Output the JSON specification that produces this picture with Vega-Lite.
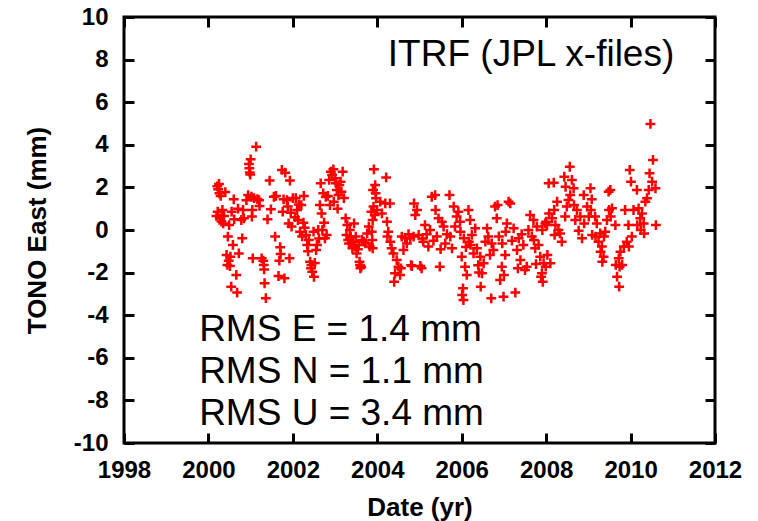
{
 "$schema": "https://vega.github.io/schema/vega-lite/v6.json",
 "width": 591,
 "height": 426,
 "autosize": {"type": "none"},
 "padding": {"left": 124, "top": 17, "right": 43, "bottom": 78},
 "background": "white",
 "config": {
  "view": {"stroke": "black", "strokeWidth": 3},
  "axis": {"domain": false, "grid": false, "tickColor": "black", "tickWidth": 3, "tickSize": 10, "labelFlush": false,
   "labelFont": "Liberation Sans", "labelFontWeight": "bold", "labelFontSize": 24, "labelColor": "black",
   "titleFont": "Liberation Sans", "titleFontWeight": "bold", "titleFontSize": 26, "titleColor": "black"}
 },
 "data": {"values": [
  {"t":2000.19,"e":0.66},{"t":2000.21,"e":2.05},{"t":2000.22,"e":0.86},{"t":2000.23,"e":1.91},{"t":2000.25,"e":2.16},{"t":2000.26,"e":1.72},{"t":2000.27,"e":0.55},{"t":2000.29,"e":1.6},{"t":2000.31,"e":0.4},{"t":2000.33,"e":0.94},{"t":2000.35,"e":0.31},{"t":2000.37,"e":0.66},{"t":2000.40,"e":1.78},{"t":2000.43,"e":-1.17},{"t":2000.45,"e":-1.64},{"t":2000.46,"e":-0.31},{"t":2000.48,"e":-1.44},{"t":2000.49,"e":0.23},{"t":2000.51,"e":-1.69},{"t":2000.52,"e":-1.25},{"t":2000.54,"e":-2.66},{"t":2000.55,"e":0.86},{"t":2000.58,"e":-0.7},{"t":2000.60,"e":1.44},{"t":2000.61,"e":0.5},{"t":2000.66,"e":-2.11},{"t":2000.68,"e":-2.94},{"t":2000.70,"e":1.0},{"t":2000.72,"e":-1.1},{"t":2000.78,"e":0.47},{"t":2000.80,"e":-0.39},{"t":2000.82,"e":0.94},{"t":2000.84,"e":0.55},{"t":2000.90,"e":1.4},{"t":2000.94,"e":1.64},{"t":2000.96,"e":3.1},{"t":2000.97,"e":2.9},{"t":2000.98,"e":2.7},{"t":2000.99,"e":2.6},{"t":2001.00,"e":3.32},{"t":2001.02,"e":1.56},{"t":2001.03,"e":0.63},{"t":2001.04,"e":0.94},{"t":2001.05,"e":-1.33},{"t":2001.08,"e":1.5},{"t":2001.13,"e":3.91},{"t":2001.16,"e":1.45},{"t":2001.20,"e":1.4},{"t":2001.21,"e":1.13},{"t":2001.26,"e":-1.33},{"t":2001.30,"e":-1.44},{"t":2001.31,"e":-1.64},{"t":2001.32,"e":-1.85},{"t":2001.33,"e":-2.5},{"t":2001.36,"e":-3.2},{"t":2001.40,"e":0.5},{"t":2001.45,"e":2.32},{"t":2001.48,"e":0.97},{"t":2001.55,"e":1.56},{"t":2001.58,"e":-0.31},{"t":2001.60,"e":1.6},{"t":2001.66,"e":-2.16},{"t":2001.68,"e":-1.44},{"t":2001.70,"e":-0.81},{"t":2001.71,"e":-1.13},{"t":2001.74,"e":2.82},{"t":2001.76,"e":0.86},{"t":2001.78,"e":1.44},{"t":2001.80,"e":-2.27},{"t":2001.82,"e":2.69},{"t":2001.86,"e":1.4},{"t":2001.88,"e":1.1},{"t":2001.90,"e":0.31},{"t":2001.92,"e":-1.33},{"t":2001.93,"e":2.32},{"t":2001.95,"e":0.81},{"t":2001.97,"e":0.16},
  {"t":2002.00,"e":1.5},{"t":2002.05,"e":0.6},{"t":2002.07,"e":1.5},{"t":2002.10,"e":0.94},{"t":2002.12,"e":0.47},{"t":2002.14,"e":1.2},{"t":2002.17,"e":-0.08},{"t":2002.20,"e":1.17},{"t":2002.22,"e":-0.3},{"t":2002.25,"e":0.34},{"t":2002.26,"e":1.6},{"t":2002.28,"e":0.1},{"t":2002.31,"e":-0.23},{"t":2002.34,"e":-0.7},{"t":2002.36,"e":-1.0},{"t":2002.38,"e":-0.47},{"t":2002.41,"e":-1.49},{"t":2002.43,"e":-1.8},{"t":2002.44,"e":-1.64},{"t":2002.46,"e":-1.96},{"t":2002.49,"e":-0.08},{"t":2002.50,"e":-2.2},{"t":2002.52,"e":-1.55},{"t":2002.55,"e":-0.94},{"t":2002.57,"e":-0.7},{"t":2002.60,"e":0.0},{"t":2002.62,"e":-0.4},{"t":2002.64,"e":1.17},{"t":2002.66,"e":2.19},{"t":2002.68,"e":0.78},{"t":2002.70,"e":0.0},{"t":2002.72,"e":1.72},{"t":2002.74,"e":0.34},{"t":2002.76,"e":-0.39},{"t":2002.78,"e":1.56},{"t":2002.80,"e":-0.23},{"t":2002.83,"e":1.6},{"t":2002.86,"e":2.35},{"t":2002.88,"e":1.17},{"t":2002.90,"e":2.74},{"t":2002.93,"e":2.58},{"t":2002.96,"e":2.85},{"t":2002.97,"e":1.33},{"t":2003.00,"e":2.43},{"t":2003.02,"e":2.2},{"t":2003.04,"e":1.88},{"t":2003.06,"e":1.0},{"t":2003.08,"e":1.64},{"t":2003.10,"e":2.11},{"t":2003.13,"e":2.27},{"t":2003.15,"e":1.8},{"t":2003.18,"e":2.74},{"t":2003.21,"e":1.5},{"t":2003.25,"e":0.55},{"t":2003.27,"e":-0.23},{"t":2003.29,"e":0.23},{"t":2003.31,"e":-0.47},{"t":2003.33,"e":-0.63},{"t":2003.35,"e":0.0},{"t":2003.37,"e":-0.31},{"t":2003.39,"e":-0.6},{"t":2003.41,"e":-0.86},{"t":2003.43,"e":-0.55},{"t":2003.45,"e":0.31},{"t":2003.47,"e":-0.78},{"t":2003.49,"e":-0.31},{"t":2003.51,"e":-1.1},{"t":2003.54,"e":-0.9},{"t":2003.56,"e":-0.7},{"t":2003.58,"e":-1.49},{"t":2003.59,"e":-1.64},{"t":2003.60,"e":-1.8},{"t":2003.62,"e":-1.72},{"t":2003.64,"e":-0.47},{"t":2003.68,"e":-0.55},{"t":2003.72,"e":-0.63},{"t":2003.76,"e":-0.16},{"t":2003.80,"e":0.16},{"t":2003.82,"e":-0.78},{"t":2003.86,"e":0.86},{"t":2003.87,"e":-0.08},{"t":2003.88,"e":-0.47},{"t":2003.89,"e":-0.86},{"t":2003.89,"e":0.47},{"t":2003.90,"e":1.88},{"t":2003.91,"e":1.1},{"t":2003.92,"e":2.85},{"t":2003.94,"e":0.7},{"t":2003.95,"e":2.11},{"t":2003.96,"e":1.72},{"t":2003.97,"e":1.49},{"t":2003.99,"e":0.94},
  {"t":2004.07,"e":1.33},{"t":2004.11,"e":0.78},{"t":2004.19,"e":1.25},{"t":2004.21,"e":2.47},{"t":2004.23,"e":0.39},{"t":2004.24,"e":-0.31},{"t":2004.26,"e":-0.08},{"t":2004.30,"e":1.25},{"t":2004.31,"e":-0.55},{"t":2004.34,"e":-0.86},{"t":2004.38,"e":-1.1},{"t":2004.40,"e":-2.43},{"t":2004.42,"e":-2.03},{"t":2004.46,"e":-1.41},{"t":2004.50,"e":-1.72},{"t":2004.54,"e":-2.11},{"t":2004.56,"e":-1.8},{"t":2004.58,"e":-0.31},{"t":2004.62,"e":-0.94},{"t":2004.66,"e":-0.39},{"t":2004.70,"e":-0.63},{"t":2004.74,"e":-0.2},{"t":2004.78,"e":-0.39},{"t":2004.80,"e":-1.65},{"t":2004.82,"e":-1.69},{"t":2004.86,"e":-0.31},{"t":2004.87,"e":1.25},{"t":2004.90,"e":0.7},{"t":2004.94,"e":0.94},{"t":2004.98,"e":-0.23},{"t":2005.02,"e":-1.69},{"t":2005.05,"e":-1.8},{"t":2005.07,"e":-0.4},{"t":2005.09,"e":-0.55},{"t":2005.13,"e":0.23},{"t":2005.17,"e":-0.2},{"t":2005.21,"e":-0.78},{"t":2005.25,"e":0.0},{"t":2005.29,"e":1.56},{"t":2005.33,"e":-0.5},{"t":2005.37,"e":1.64},{"t":2005.38,"e":0.94},{"t":2005.41,"e":-0.3},{"t":2005.45,"e":0.55},{"t":2005.48,"e":-1.72},{"t":2005.50,"e":-0.9},{"t":2005.53,"e":0.39},{"t":2005.57,"e":0.16},{"t":2005.61,"e":-0.63},{"t":2005.65,"e":-0.2},{"t":2005.71,"e":1.64},{"t":2005.73,"e":-0.31},{"t":2005.77,"e":-0.86},{"t":2005.81,"e":1.1},{"t":2005.84,"e":0.16},{"t":2005.88,"e":0.63},{"t":2005.92,"e":0.86},{"t":2005.96,"e":0.39},{"t":2005.97,"e":-0.08},
  {"t":2006.00,"e":-1.25},{"t":2006.01,"e":-3.05},{"t":2006.03,"e":-2.74},{"t":2006.04,"e":-3.29},{"t":2006.05,"e":-0.39},{"t":2006.08,"e":-1.72},{"t":2006.10,"e":-0.8},{"t":2006.12,"e":-2.11},{"t":2006.16,"e":0.94},{"t":2006.17,"e":-0.55},{"t":2006.20,"e":0.47},{"t":2006.21,"e":-0.7},{"t":2006.24,"e":-0.23},{"t":2006.28,"e":-1.1},{"t":2006.32,"e":0.08},{"t":2006.36,"e":-0.86},{"t":2006.39,"e":-1.65},{"t":2006.41,"e":-2.0},{"t":2006.44,"e":-1.25},{"t":2006.45,"e":-2.66},{"t":2006.48,"e":-2.03},{"t":2006.52,"e":-1.56},{"t":2006.56,"e":-0.55},{"t":2006.60,"e":0.08},{"t":2006.63,"e":-0.31},{"t":2006.67,"e":-1.17},{"t":2006.70,"e":-3.21},{"t":2006.71,"e":-0.63},{"t":2006.75,"e":-0.94},{"t":2006.79,"e":1.1},{"t":2006.83,"e":0.55},{"t":2006.85,"e":1.17},{"t":2006.88,"e":-0.3},{"t":2006.91,"e":-2.35},{"t":2006.95,"e":-1.72},{"t":2006.96,"e":-0.63},{"t":2006.99,"e":-3.13},{"t":2007.00,"e":-2.11},{"t":2007.03,"e":-1.17},{"t":2007.04,"e":-0.08},{"t":2007.07,"e":0.31},{"t":2007.11,"e":1.33},{"t":2007.15,"e":1.25},{"t":2007.19,"e":-0.5},{"t":2007.23,"e":0.08},{"t":2007.27,"e":-2.94},{"t":2007.31,"e":-0.94},{"t":2007.33,"e":-1.8},{"t":2007.35,"e":-0.39},{"t":2007.39,"e":-1.41},{"t":2007.42,"e":-0.2},{"t":2007.46,"e":-0.7},{"t":2007.50,"e":-1.88},{"t":2007.54,"e":-1.72},{"t":2007.58,"e":0.0},{"t":2007.62,"e":0.7},{"t":2007.66,"e":-0.3},{"t":2007.70,"e":0.47},{"t":2007.71,"e":-0.47},{"t":2007.74,"e":-0.86},{"t":2007.76,"e":-1.6},{"t":2007.78,"e":0.16},{"t":2007.82,"e":-0.7},{"t":2007.86,"e":-1.25},{"t":2007.88,"e":-2.2},{"t":2007.90,"e":-2.03},{"t":2007.91,"e":0.0},{"t":2007.92,"e":-2.43},{"t":2007.94,"e":-1.56},{"t":2007.98,"e":0.31},{"t":2007.99,"e":-1.72},
  {"t":2008.00,"e":0.39},{"t":2008.02,"e":0.23},{"t":2008.03,"e":-1.17},{"t":2008.06,"e":2.19},{"t":2008.07,"e":0.78},{"t":2008.10,"e":-1.56},{"t":2008.14,"e":0.55},{"t":2008.18,"e":2.22},{"t":2008.19,"e":0.94},{"t":2008.20,"e":-0.23},{"t":2008.22,"e":0.23},{"t":2008.26,"e":1.33},{"t":2008.29,"e":0.0},{"t":2008.33,"e":-0.16},{"t":2008.37,"e":-0.55},{"t":2008.43,"e":2.5},{"t":2008.45,"e":0.63},{"t":2008.46,"e":2.03},{"t":2008.49,"e":1.1},{"t":2008.53,"e":1.41},{"t":2008.56,"e":2.97},{"t":2008.57,"e":1.64},{"t":2008.61,"e":2.35},{"t":2008.65,"e":1.96},{"t":2008.66,"e":1.17},{"t":2008.69,"e":0.47},{"t":2008.73,"e":0.94},{"t":2008.77,"e":-0.03},{"t":2008.81,"e":0.63},{"t":2008.85,"e":-0.39},{"t":2008.89,"e":1.64},{"t":2008.90,"e":0.31},{"t":2008.97,"e":1.1},{"t":2009.01,"e":0.63},{"t":2009.05,"e":1.96},{"t":2009.06,"e":0.94},{"t":2009.08,"e":1.44},{"t":2009.09,"e":-0.23},{"t":2009.16,"e":0.63},{"t":2009.17,"e":-0.31},{"t":2009.20,"e":0.31},{"t":2009.24,"e":-0.55},{"t":2009.28,"e":-0.16},{"t":2009.29,"e":-1.02},{"t":2009.32,"e":-0.78},{"t":2009.33,"e":-1.49},{"t":2009.36,"e":-1.25},{"t":2009.37,"e":-0.31},{"t":2009.40,"e":-0.08},{"t":2009.44,"e":0.47},{"t":2009.48,"e":1.8},{"t":2009.49,"e":0.94},{"t":2009.52,"e":1.88},{"t":2009.53,"e":0.63},{"t":2009.56,"e":1.02},{"t":2009.64,"e":0.23},{"t":2009.65,"e":-1.64},{"t":2009.68,"e":-2.19},{"t":2009.72,"e":-1.33},{"t":2009.73,"e":-2.66},{"t":2009.74,"e":-1.72},{"t":2009.76,"e":-1.02},{"t":2009.80,"e":-1.64},{"t":2009.84,"e":-0.78},{"t":2009.87,"e":0.94},{"t":2009.91,"e":-0.55},{"t":2009.95,"e":0.23},{"t":2009.96,"e":-0.78},{"t":2009.98,"e":2.82},
  {"t":2010.01,"e":2.27},{"t":2010.03,"e":-0.31},{"t":2010.07,"e":0.94},{"t":2010.15,"e":1.88},{"t":2010.16,"e":0.23},{"t":2010.19,"e":1.02},{"t":2010.23,"e":0.55},{"t":2010.24,"e":0.0},{"t":2010.27,"e":0.78},{"t":2010.31,"e":0.31},{"t":2010.32,"e":-0.16},{"t":2010.35,"e":1.33},{"t":2010.39,"e":1.49},{"t":2010.43,"e":1.88},{"t":2010.45,"e":2.66},{"t":2010.47,"e":4.98},{"t":2010.51,"e":2.27},{"t":2010.53,"e":3.29},{"t":2010.59,"e":1.96},{"t":2010.60,"e":0.23}
 ]},
 "layer": [
  {
   "mark": {"type": "point", "shape": "M-1,0H1M0,-1V1", "size": 96, "strokeWidth": 2.5, "filled": false, "color": "#ff0000", "opacity": 1},
   "encoding": {
    "x": {"field": "t", "type": "quantitative", "scale": {"domain": [1998, 2012], "nice": false, "zero": false},
     "axis": {"orient": "bottom", "values": [1998, 2000, 2002, 2004, 2006, 2008, 2010, 2012], "ticks": false, "labelExpr": "datum.value + ''", "labelPadding": 15, "title": "Date (yr)", "titleY": 72, "titleBaseline": "alphabetic"}},
    "y": {"field": "e", "type": "quantitative", "scale": {"domain": [-10, 10], "nice": false},
     "axis": {"orient": "left", "values": [-10, -8, -6, -4, -2, 0, 2, 4, 6, 8, 10], "ticks": false, "labelExpr": "datum.value + ''", "labelPadding": 16, "title": "TONO East (mm)", "titleX": -79, "titleBaseline": "alphabetic"}}
   }
  },
  {
   "data": {"values": [{}]},
   "mark": {"type": "text", "text": "ITRF (JPL x-files)", "font": "Liberation Sans", "fontSize": 37, "align": "left", "baseline": "alphabetic", "color": "black"},
   "encoding": {
    "x": {"datum": 2004.25, "type": "quantitative", "axis": {"orient": "top", "offset": -426, "values": [1998, 2000, 2002, 2004, 2006, 2008, 2010, 2012], "labels": false, "title": null}},
    "y": {"datum": 7.7, "type": "quantitative", "axis": {"orient": "right", "offset": -591, "values": [-10, -8, -6, -4, -2, 0, 2, 4, 6, 8, 10], "labels": false, "title": null}}
   }
  },
  {
   "data": {"values": [{}]},
   "mark": {"type": "text", "text": ["RMS E = 1.4 mm", "RMS N = 1.1 mm", "RMS U = 3.4 mm"], "lineHeight": 42, "font": "Liberation Sans", "fontSize": 37, "align": "left", "baseline": "alphabetic", "color": "black"},
   "encoding": {
    "x": {"datum": 1999.78, "type": "quantitative", "axis": {"orient": "bottom", "offset": -426, "values": [1998, 2000, 2002, 2004, 2006, 2008, 2010, 2012], "labels": false, "title": null}},
    "y": {"datum": -5.21, "type": "quantitative", "axis": {"orient": "left", "offset": -591, "values": [-10, -8, -6, -4, -2, 0, 2, 4, 6, 8, 10], "labels": false, "title": null}}
   }
  }
 ],
 "resolve": {"axis": {"x": "independent", "y": "independent"}}
}
